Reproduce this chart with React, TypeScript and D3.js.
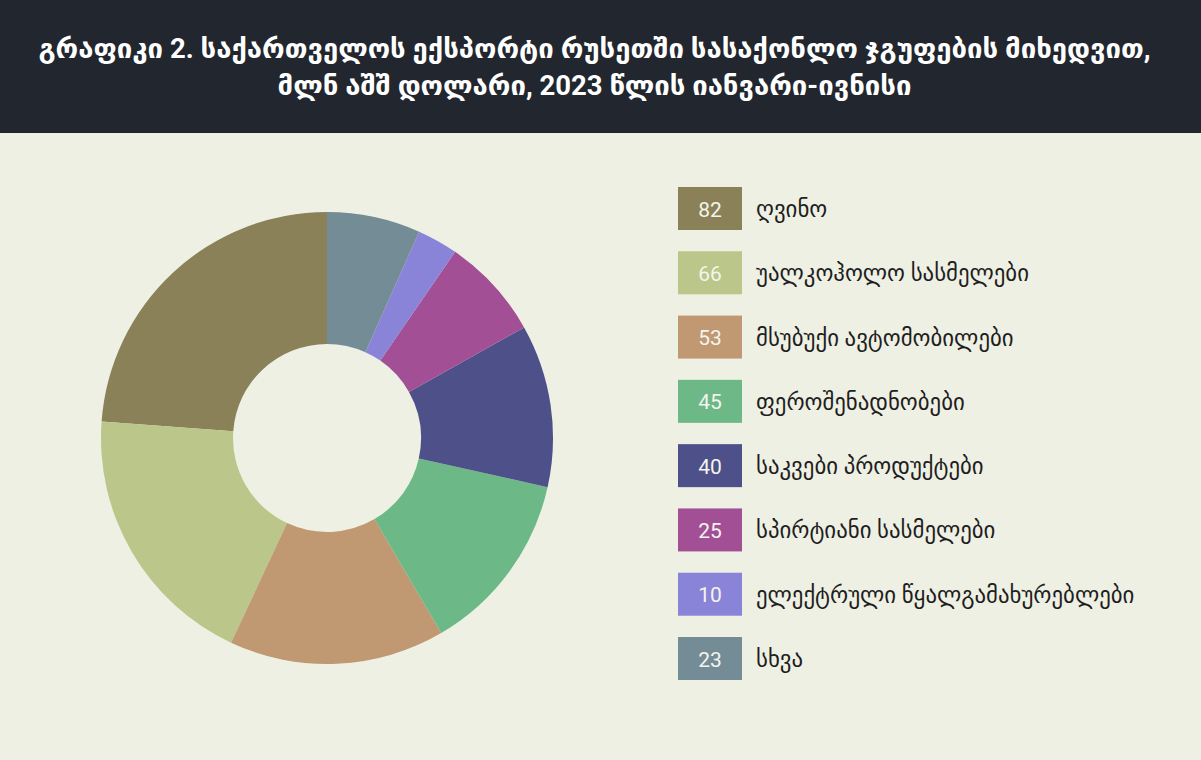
import React from "react";
import * as d3 from "d3";

const categories = [
  "ღვინო",
  "უალკოჰოლო სასმელები",
  "მსუბუქი ავტომობილები",
  "ფეროშენადნობები",
  "საკვები პროდუქტები",
  "სპირტიანი სასმელები",
  "ელექტრული წყალგამახურებლები",
  "სხვა",
];
const values = [82, 66, 53, 45, 40, 25, 10, 23];
const colors = ["#8a8158", "#bbc68a", "#c09872", "#6db887", "#4e5089", "#a24f96", "#8a84d8", "#738c96"];
const titleLines = [
  "გრაფიკი 2. საქართველოს ექსპორტი რუსეთში სასაქონლო ჯგუფების მიხედვით,",
  "მლნ აშშ დოლარი, 2023 წლის იანვარი-ივნისი",
];

const W = 1201;
const H = 760;

export default function App() {
  const cx = 327;
  const cy = 438;
  const pie = d3
    .pie<number>()
    .sort(null)
    .startAngle(0)
    .endAngle(-2 * Math.PI);
  const arcs = pie(values);
  const arc = d3.arc<d3.PieArcDatum<number>>().innerRadius(94).outerRadius(226);

  const legendY = d3
    .scalePoint<number>()
    .domain(d3.range(categories.length))
    .range([209, 659]);

  const font = "Roboto, 'DejaVu Sans', sans-serif";

  return (
    <div style={{ position: "absolute", left: 0, top: 0 }}>
      <svg width={W} height={H} style={{ display: "block" }}>
        <rect x={0} y={0} width={W} height={H} fill="#eff0e4" />
        <rect x={0} y={0} width={W} height={133} fill="#22262e" />
        {titleLines.map((t, i) => (
          <text
            key={i}
            x={W / 2 - 6}
            y={58 + i * 37}
            textAnchor="middle"
            fill="#ffffff"
            fontFamily={font}
            fontWeight="bold"
            fontSize={27.5}
          >
            {t}
          </text>
        ))}
        <g transform={`translate(${cx},${cy})`}>
          {arcs.map((a, i) => (
            <path key={i} d={arc(a) || ""} fill={colors[i]} />
          ))}
        </g>
        {categories.map((c, i) => {
          const y = legendY(i) as number;
          return (
            <g key={i}>
              <rect x={678} y={y - 22} width={64} height={43} fill={colors[i]} />
              <text
                x={710}
                y={y + 7.5}
                textAnchor="middle"
                fill="#f4f4ec"
                fontFamily={font}
                fontSize={21}
              >
                {values[i]}
              </text>
              <text x={756} y={y + 8} fill="#1e1e1e" fontFamily={font} fontSize={22.8}>
                {c}
              </text>
            </g>
          );
        })}
      </svg>
    </div>
  );
}
